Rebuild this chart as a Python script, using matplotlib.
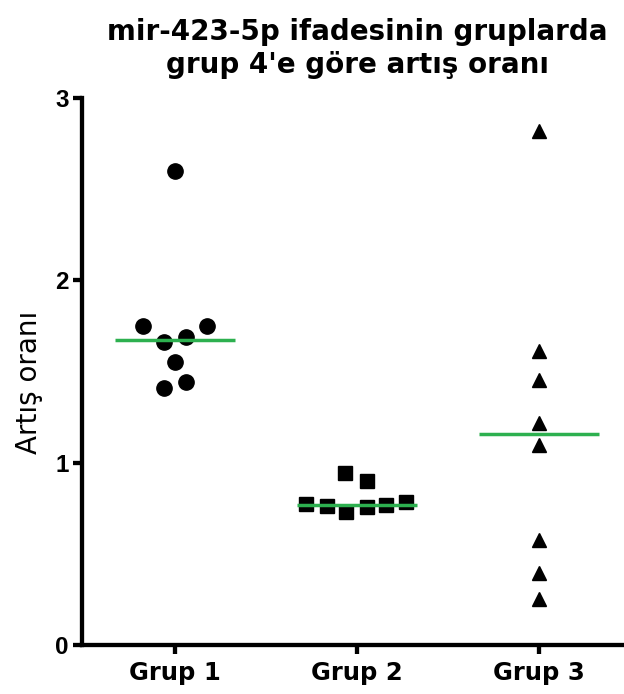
import numpy as np
import matplotlib
matplotlib.use("Agg")
from matplotlib import pyplot as plt

plt.rcParams['font.family'] = ['DejaVu Sans']

# Data (fold increase vs group 4)
groups = ["Grup 1", "Grup 2", "Grup 3"]
grup1 = [2.60, 1.75, 1.75, 1.66, 1.69, 1.55, 1.41, 1.44]
grup2 = [0.945, 0.90, 0.773, 0.764, 0.727, 0.757, 0.768, 0.784]
grup3 = [2.82, 1.615, 1.455, 1.215, 1.097, 0.578, 0.397, 0.251]

# horizontal scatter offsets of the points inside each column
jitter1 = [0.0, -0.176, 0.178, -0.058, 0.060, 0.0, -0.062, 0.060]
jitter2 = [-0.064, 0.056, -0.278, -0.165, -0.060, 0.053, 0.162, 0.271]
jitter3 = [0.0] * 8

markers = ["o", "s", "^"]
sizes = [11, 10.5, 10.5]

fig = plt.figure(figsize=(6.24, 6.94), dpi=100)
ax = fig.add_axes([82 / 624, 49 / 694, 542 / 624, 547 / 694])

series = [grup1, grup2, grup3]
jitters = [jitter1, jitter2, jitter3]
for i, (vals, jit) in enumerate(zip(series, jitters)):
    xpos = i + 1 + np.array(jit)
    ax.plot(xpos, vals, linestyle="none", marker=markers[i], ms=sizes[i],
            color="black", zorder=3)
    med = np.median(vals)
    ax.plot([i + 1 - 0.33, i + 1 + 0.33], [med, med], color="#2db04f",
            lw=2.5, zorder=4, solid_capstyle="butt")

ax.set_xlim(0.489, 3.467)
ax.set_ylim(0, 3)
ax.set_yticks([0, 1, 2, 3])
ax.set_xticks([1, 2, 3])
ax.set_xticklabels(groups)

for side in ["top", "right"]:
    ax.spines[side].set_visible(False)
for side in ["left", "bottom"]:
    ax.spines[side].set_linewidth(3.1)
ax.tick_params(width=3.1, length=6.5)
ax.tick_params(axis="y", pad=3)
ax.tick_params(axis="x", pad=5)
for lbl in ax.get_yticklabels():
    lbl.set_fontfamily("Liberation Sans")
    lbl.set_fontweight("bold")
    lbl.set_fontsize(17.5)
for lbl in ax.get_xticklabels():
    lbl.set_fontweight("bold")
    lbl.set_fontsize(17.5)

ax.set_ylabel("Artış oranı", fontsize=20)
ax.yaxis.set_label_coords(-0.072, 0.48)

fig.text(357 / 624, 1 - 40 / 694, "mir-423-5p ifadesinin gruplarda",
         ha="center", va="baseline", fontsize=20, fontweight="bold")
fig.text(357 / 624, 1 - 73 / 694, "grup 4'e göre artış oranı",
         ha="center", va="baseline", fontsize=20, fontweight="bold")

fig.savefig("out.png", dpi=100)
